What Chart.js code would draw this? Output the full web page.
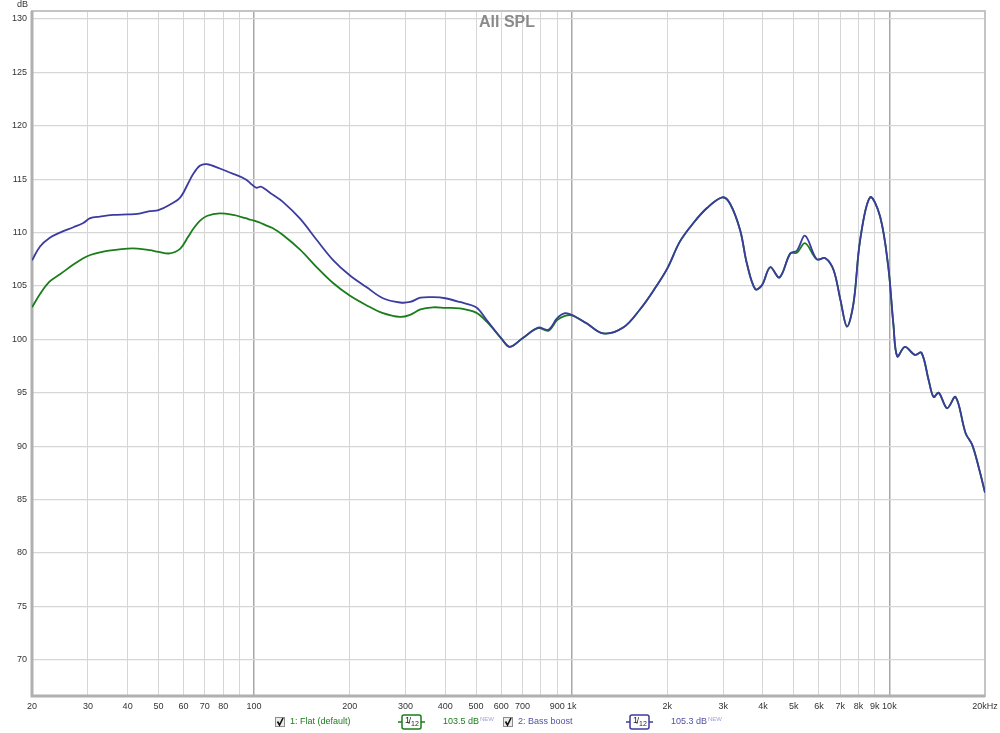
<!DOCTYPE html>
<html lang="en">
<head>
<meta charset="UTF-8">
<title>All SPL</title>
<script src="https://cdn.jsdelivr.net/npm/chart.js"></script>
<style>
  body { margin: 0; background: #fff; }
  #wrap { position: relative; width: 1000px; height: 733px; }
</style>
</head>
<body>
<div id="wrap"><canvas id="spl" width="1000" height="733"></canvas></div>
<script>
// frequency points (Hz)
const freqs = [20, 21.2, 22.7, 24.5, 27, 29, 30.5, 32.7, 36, 40, 43, 47, 50, 54.3, 58.6, 62, 64.4, 67.5, 71, 78,
  86, 94, 97.5, 101.6, 105, 108.6, 113.9, 123, 139.6, 157.6, 177.7, 200, 225.7, 254.6, 288, 310, 334, 366, 400, 444,
  500, 540, 600, 638, 700, 784, 844, 900, 952, 1000, 1114, 1256, 1452, 1640, 1812, 2000, 2190, 2416, 2666, 2980,
  3152, 3392, 3560, 3785, 3975, 4216, 4510, 4876, 5112, 5430, 5906, 6286, 6672, 7012, 7354, 7712, 8090, 8696,
  9350, 9920, 10290, 10590, 11190, 12030, 12620, 13290, 13780, 14300, 15200, 16160, 17380, 18240, 19150, 20000];

// 2: Bass boost (dB)
const bassBoost = [107.4, 108.7, 109.5, 110.0, 110.5, 110.9, 111.35, 111.5, 111.65, 111.7, 111.75, 112.0, 112.1, 112.6, 113.3, 114.6, 115.5, 116.25, 116.4, 116.0,
  115.5, 115.0, 114.6, 114.2, 114.3, 114.05, 113.6, 112.9, 111.3, 109.3, 107.4, 106.0, 104.9, 103.85, 103.45, 103.5, 103.9, 103.95, 103.85, 103.5,
  103.0, 101.8, 100.1, 99.3, 100.1, 101.1, 100.9, 101.98, 102.45, 102.3, 101.5, 100.55, 101.1, 102.8, 104.6, 106.65, 109.15, 110.9, 112.3, 113.3,
  112.7, 110.2, 107.1, 104.7, 105.1, 106.75, 105.8, 108.05, 108.3, 109.7, 107.5, 107.6, 106.5, 103.7, 101.2, 103.4, 109.3, 113.3,
  111.5, 106.8, 101.5, 98.4, 99.3, 98.55, 98.75, 96.2, 94.6, 95.0, 93.55, 94.6, 91.2, 90.1, 87.9, 85.65];

// 1: Flat (default) (dB)
const flat = [103.0, 104.25, 105.4, 106.1, 107.0, 107.6, 107.9, 108.15, 108.35, 108.5, 108.5, 108.35, 108.2, 108.05, 108.5, 109.6, 110.35, 111.1, 111.55, 111.8,
  111.65, 111.35, 111.2, 111.05, 110.9, 110.7, 110.45, 109.8, 108.4, 106.75, 105.25, 104.1, 103.2, 102.45, 102.1, 102.3, 102.8, 103.0, 102.95, 102.9,
  102.5, 101.65, 100.1, 99.3, 100.1, 101.05, 100.8, 101.8, 102.2, 102.25, 101.5, 100.55, 101.1, 102.8, 104.6, 106.65, 109.15, 110.9, 112.3, 113.3,
  112.7, 110.2, 107.1, 104.7, 105.1, 106.75, 105.8, 108.05, 108.1, 109.0, 107.5, 107.6, 106.5, 103.7, 101.2, 103.4, 109.3, 113.3,
  111.5, 106.8, 101.5, 98.4, 99.3, 98.55, 98.75, 96.2, 94.6, 95.0, 93.55, 94.6, 91.2, 90.1, 87.9, 85.65];

const xGrid = [20, 30, 40, 50, 60, 70, 80, 90, 100, 200, 300, 400, 500, 600, 700, 800, 900, 1000,
  2000, 3000, 4000, 5000, 6000, 7000, 8000, 9000, 10000, 20000];
const xLabels = ['20', '30', '40', '50', '60', '70', '80', '', '100', '200', '300', '400', '500', '600', '700', '', '900', '1k',
  '2k', '3k', '4k', '5k', '6k', '7k', '8k', '9k', '10k', '20kHz'];
const majorFreqs = [100, 1000, 10000];
const yTicks = [70, 75, 80, 85, 90, 95, 100, 105, 110, 115, 120, 125, 130];

const GREEN = '#1a7d1a';
const BLUE = '#3b3ba0';
const FONT = '"Liberation Sans", Arial, sans-serif';

const toPoints = arr => freqs.map((f, i) => ({ x: f, y: arr[i] }));

// frame, title, "dB" unit and the legend strip under the axis
const overlay = {
    id: 'overlay',
    beforeDatasetsDraw(chart) {
        const { ctx, chartArea: a } = chart;
        ctx.save();
        ctx.strokeStyle = '#c4c4c4';
        ctx.lineWidth = 2;
        ctx.strokeRect(a.left, a.top, a.right - a.left, a.bottom - a.top);
        ctx.strokeStyle = '#b0b0b0';
        ctx.lineWidth = 3;
        ctx.beginPath();
        ctx.moveTo(a.left, a.top);
        ctx.lineTo(a.left, a.bottom);
        ctx.lineTo(a.right, a.bottom);
        ctx.stroke();
        ctx.restore();
    },
    afterDraw(chart) {
        const { ctx } = chart;
        ctx.save();
        ctx.textBaseline = 'middle';

        ctx.font = 'bold 16px ' + FONT;
        ctx.fillStyle = '#8a8a8a';
        ctx.textAlign = 'center';
        ctx.fillText('All SPL', 507, 23);

        ctx.font = '9px ' + FONT;
        ctx.fillStyle = '#333';
        ctx.textAlign = 'right';
        ctx.fillText('dB', 28, 5);

        const y = 722;
        const checkbox = (x) => {
            ctx.fillStyle = '#ececec';
            ctx.fillRect(x, y - 5, 10, 10);
            ctx.strokeStyle = '#8c8c8c';
            ctx.lineWidth = 1;
            ctx.strokeRect(x + 0.5, y - 4.5, 9, 9);
            ctx.strokeStyle = '#111';
            ctx.lineWidth = 1.6;
            ctx.beginPath();
            ctx.moveTo(x + 2.5, y - 0.5);
            ctx.lineTo(x + 4.5, y + 3);
            ctx.lineTo(x + 8, y - 4);
            ctx.stroke();
        };
        const smoothBox = (x, color) => {
            ctx.strokeStyle = color;
            ctx.lineWidth = 1.5;
            ctx.beginPath();
            ctx.moveTo(x, y);
            ctx.lineTo(x + 27, y);
            ctx.stroke();
            ctx.fillStyle = '#fff';
            ctx.beginPath();
            ctx.roundRect(x + 4, y - 7, 19, 14, 2);
            ctx.fill();
            ctx.stroke();
            ctx.fillStyle = '#222';
            ctx.textAlign = 'left';
            ctx.font = '9px ' + FONT;
            ctx.fillText('1', x + 7, y - 1.5);
            ctx.fillText('/', x + 10.5, y);
            ctx.font = '7px ' + FONT;
            ctx.fillText('12', x + 13, y + 2);
        };
        const value = (x, text, color) => {
            ctx.textAlign = 'left';
            ctx.font = '9px ' + FONT;
            ctx.fillStyle = color;
            ctx.fillText(text, x, y);
            const w = ctx.measureText(text).width;
            ctx.font = '6px ' + FONT;
            ctx.fillStyle = '#a0a0e0';
            ctx.fillText('NEW', x + w + 1, y - 3);
        };

        checkbox(275);
        ctx.font = '9px ' + FONT;
        ctx.textAlign = 'left';
        ctx.fillStyle = GREEN;
        ctx.fillText('1: Flat (default)', 290, y);
        smoothBox(398, GREEN);
        value(443, '103.5 dB', GREEN);

        checkbox(503);
        ctx.font = '9px ' + FONT;
        ctx.textAlign = 'left';
        ctx.fillStyle = '#5050a8';
        ctx.fillText('2: Bass boost', 518, y);
        smoothBox(626, BLUE);
        value(671, '105.3 dB', '#5050a8');

        ctx.restore();
    }
};

new Chart(document.getElementById('spl'), {
    type: 'line',
    data: {
        datasets: [
            {
                label: '1: Flat (default)',
                data: toPoints(flat),
                borderColor: GREEN,
                borderWidth: 1.8,
                pointRadius: 0,
                tension: 0.35,
                order: 2
            },
            {
                label: '2: Bass boost',
                data: toPoints(bassBoost),
                borderColor: BLUE,
                borderWidth: 1.8,
                pointRadius: 0,
                tension: 0.35,
                order: 1
            }
        ]
    },
    options: {
        responsive: false,
        animation: false,
        layout: { padding: { left: 0, right: 15, top: 11, bottom: 0 } },
        plugins: {
            legend: { display: false },
            tooltip: { enabled: false }
        },
        scales: {
            x: {
                type: 'logarithmic',
                min: 20,
                max: 20000,
                afterBuildTicks: scale => { scale.ticks = xGrid.map(v => ({ value: v })); },
                afterFit: scale => {
                    scale.height = 37;
                    scale.paddingLeft = 0;
                    scale.paddingRight = 0;
                },
                border: { display: false },
                grid: {
                    drawTicks: false,
                    color: c => majorFreqs.includes(c.tick && c.tick.value) ? '#a8a8a8' : '#d6d6d6',
                    lineWidth: c => majorFreqs.includes(c.tick && c.tick.value) ? 1.5 : 1
                },
                ticks: {
                    autoSkip: false,
                    maxRotation: 0,
                    padding: 5,
                    color: '#333',
                    font: { family: FONT, size: 9 },
                    callback: (v, i) => xLabels[i]
                }
            },
            y: {
                min: 66.6,
                max: 130.75,
                afterBuildTicks: scale => { scale.ticks = yTicks.map(v => ({ value: v })); },
                afterFit: scale => { scale.width = 32; },
                border: { display: false },
                grid: { drawTicks: false, color: '#d6d6d6', lineWidth: 1.2 },
                ticks: {
                    padding: 5,
                    color: '#333',
                    font: { family: FONT, size: 9 },
                    callback: v => String(v)
                }
            }
        }
    },
    plugins: [overlay]
});
</script>
</body>
</html>
